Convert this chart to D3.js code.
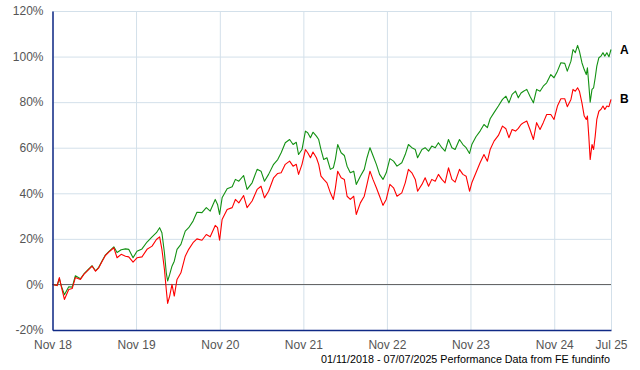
<!DOCTYPE html>
<html>
<head>
<meta charset="utf-8">
<script src="https://cdn.jsdelivr.net/npm/d3@7"></script>
<style>
  body { margin: 0; background: #fff; }
  svg { display: block; font-family: "Liberation Sans", Arial, sans-serif; }
  .grid line { stroke: #d3e0ea; stroke-width: 1; }
  .grid .domain { display: none; }
  .axis text { fill: #555; font-size: 12px; }
  .line { fill: none; stroke-width: 1.1; stroke-linejoin: round; }
</style>
</head>
<body>
<div id="chart"></div>
<script>
// dates
var dates = [
  "2018-11-01","2018-11-21","2018-12-01","2018-12-09","2018-12-23","2019-01-11","2019-01-26","2019-02-09",
  "2019-03-03","2019-03-18","2019-04-01","2019-04-23","2019-05-08","2019-05-22","2019-06-06","2019-06-20",
  "2019-07-05","2019-07-27","2019-08-10","2019-08-28","2019-09-16","2019-09-30","2019-10-19","2019-11-05",
  "2019-11-27","2019-12-19","2020-01-10","2020-01-29","2020-02-12","2020-02-22","2020-03-04","2020-03-12",
  "2020-03-18","2020-03-27","2020-04-06","2020-04-16","2020-04-28","2020-05-15","2020-06-03","2020-06-18",
  "2020-07-07","2020-07-24","2020-08-15","2020-09-03","2020-09-20","2020-10-12","2020-10-22","2020-10-31",
  "2020-11-11","2020-12-03","2020-12-25","2021-01-08","2021-01-23","2021-02-13","2021-02-28","2021-03-22",
  "2021-04-13","2021-04-30","2021-05-15","2021-06-02","2021-06-24","2021-07-12","2021-07-27","2021-08-14",
  "2021-09-02","2021-09-17","2021-10-01","2021-10-11","2021-10-26","2021-11-10","2021-11-20","2021-12-02",
  "2021-12-13","2021-12-28","2022-01-07","2022-01-17","2022-01-29","2022-02-12","2022-02-27","2022-03-12",
  "2022-03-21","2022-03-31","2022-04-15","2022-04-29","2022-05-11","2022-05-25","2022-06-09","2022-06-20",
  "2022-07-08","2022-07-25","2022-08-06","2022-08-19","2022-09-01","2022-09-16","2022-09-30","2022-10-15",
  "2022-10-29","2022-11-14","2022-11-30","2022-12-15","2023-01-05","2023-01-20","2023-02-03","2023-02-18",
  "2023-03-05","2023-03-15","2023-04-03","2023-04-17","2023-05-02","2023-05-16","2023-05-31","2023-06-14",
  "2023-06-29","2023-07-13","2023-07-28","2023-08-12","2023-08-26","2023-09-14","2023-09-29","2023-10-13",
  "2023-10-28","2023-11-07","2023-11-25","2023-12-13","2023-12-30","2024-01-14","2024-01-26","2024-02-12",
  "2024-03-02","2024-03-20","2024-04-04","2024-04-17","2024-05-01","2024-05-16","2024-05-28","2024-06-09",
  "2024-06-20","2024-07-04","2024-07-18","2024-08-02","2024-08-16","2024-08-31","2024-09-14","2024-09-29",
  "2024-10-17","2024-10-31","2024-11-15","2024-11-30","2024-12-17","2024-12-28","2025-01-13","2025-01-22",
  "2025-02-01","2025-02-11","2025-02-19","2025-03-02","2025-03-12","2025-03-21","2025-03-26","2025-04-01",
  "2025-04-07","2025-04-15","2025-04-22","2025-04-29","2025-05-06","2025-05-15","2025-05-24","2025-06-02",
  "2025-06-10","2025-06-19","2025-06-28","2025-07-07"
];

// cumulative performance, %
var seriesA = [
  0,-0.5,2.5,-0.5,-4.5,-1,-1.2,3.8,
  2.5,4.6,6,8.2,6,7.5,10.4,12.9,
  14.4,16.5,14,15.2,15.6,15.4,11.7,14.6,
  15.6,18.6,20.9,22.7,24.9,22.7,13.9,5.1,
  1.5,4.4,8,10.2,15.4,17.6,23.4,24.9,
  27.8,31.7,31.5,33.7,32.2,37.3,35.1,30.7,
  38,42,42.9,46.1,45.3,47.8,41.7,44.6,
  50.5,49.7,45.3,48.3,52.7,54.8,57.8,62.2,
  63.6,61.4,62.4,57,59.2,67.3,66.6,64.4,
  66.8,65.1,63.6,59.2,54.8,55.6,50.5,51.2,
  55,61.4,57.8,56.6,51.9,49,49.7,43.9,
  47.5,50.5,55.6,60,56.6,52.7,48.3,46.1,
  49,55.2,54.1,51.9,53.4,57,61.4,60,
  59.2,55.6,59.2,60,58.5,60.7,60,62.2,
  60,58.5,63.6,60,59.2,63.6,61.4,60,
  57.5,61.4,64.8,67.3,70.2,68.8,72.7,75.4,
  78.3,81.2,82.6,79.7,83.4,84.8,81.9,84,
  84.8,85.6,82.6,79.7,85.6,84.8,87,88.5,
  92.1,90.7,93.6,97.3,97,93.6,98,103.1,
  101.7,104.9,102.4,97.3,94.3,92.1,95.1,87.8,
  80,85.6,86.3,90.7,95.8,99.5,100.2,101.7,
  100.2,101.7,99.9,103.1
];

var seriesB = [
  0,-0.5,3,-0.7,-6.6,-2.2,-1.8,3,
  2.2,4.4,5.8,8,5.8,7.3,10.2,12.7,
  14.2,16.1,11.7,13.2,12.4,12.1,9.8,11.7,
  12.1,15.4,16.8,19.7,20.9,15.4,6.6,-2.2,
  -8.3,-5.1,0,-5.1,2.2,5.1,12.4,15.4,
  18.3,20,19.4,21.9,20.9,25.9,24.9,19.4,
  28.5,32.9,33.7,37.3,35.8,39,33.7,36.6,
  41.7,43.1,38,40.9,46.8,48.7,49,52.7,
  54.1,51.9,52.7,48.3,52.7,59.2,57.8,55.6,
  58.1,55.6,52.7,47.5,46.1,44.6,40.2,37.3,
  42.4,49.7,46.8,46.1,38.7,37.3,38.7,30.7,
  35.8,38.7,43.9,49.7,46.1,42.4,38.7,34.7,
  37.3,43.9,42.4,38.7,40.2,44.6,50.5,49,
  46.1,40.9,43.9,46.8,43.1,46.1,45.3,48.3,
  46.1,44.6,51.2,46.1,44.9,50.5,48.3,47.5,
  40.9,44.6,49,53.4,57,54.1,59.2,62.9,
  65.4,69.5,68.3,64.4,68,67.3,68.5,70.2,
  71,71.7,68,63.6,71,68,71,74.6,
  74.6,72.4,78.3,81.5,81.5,78,81.2,85.6,
  84.8,86.3,84.8,79.7,73.9,72.4,73.9,65.1,
  54.8,61.4,59.2,65.1,72.4,76,76.8,78.3,
  76.8,78.3,78,81.2
];

var xTickDates = ["2018-11-01","2019-11-01","2020-11-01","2021-11-01","2022-11-01","2023-11-01","2024-11-01","2025-07-07"];
var xTickLabels = ["Nov 18","Nov 19","Nov 20","Nov 21","Nov 22","Nov 23","Nov 24","Jul 25"];
var yTicks = [-20, 0, 20, 40, 60, 80, 100, 120];
var seriesNames = ["A", "B"];
var seriesColors = ["#139113", "#ff0000"];

var parse = d3.timeParse("%Y-%m-%d");

var svg = d3.select("#chart").append("svg")
    .attr("width", 640)
    .attr("height", 370);

var plotLeft = 52.5, plotRight = 611, plotTop = 11, plotBottom = 330;

var x = d3.scaleTime()
    .domain([parse(dates[0]), parse(dates[dates.length - 1])])
    .range([plotLeft, plotRight]);

var y = d3.scaleLinear()
    .domain([-20, 120])
    .range([plotBottom, plotTop]);

var tickDates = xTickDates.map(parse);

// grid
svg.append("g")
    .attr("class", "grid")
    .attr("transform", "translate(0," + plotBottom + ")")
    .call(d3.axisBottom(x).tickValues(tickDates).tickSize(-(plotBottom - plotTop)).tickFormat(""));

svg.append("g")
    .attr("class", "grid")
    .attr("transform", "translate(" + plotLeft + ",0)")
    .call(d3.axisLeft(y).tickValues(yTicks).tickSize(-(plotRight - plotLeft)).tickFormat(""));

// zero line
svg.append("line")
    .attr("x1", plotLeft).attr("x2", plotRight)
    .attr("y1", Math.round(y(0)) + 0.5).attr("y2", Math.round(y(0)) + 0.5)
    .attr("stroke", "#666")
    .attr("stroke-width", 1);

// series
var series = [seriesA, seriesB];
series.forEach(function (vals, i) {
    var line = d3.line()
        .x(function (d, j) { return x(parse(dates[j])); })
        .y(function (d) { return y(d); });
    svg.append("path")
        .datum(vals)
        .attr("class", "line")
        .attr("stroke", seriesColors[i])
        .attr("d", line);

    svg.append("text")
        .attr("x", 620)
        .attr("y", y(vals[vals.length - 1]) + 4)
        .attr("font-size", "12px")
        .attr("font-weight", "bold")
        .attr("fill", "#000")
        .text(seriesNames[i]);
});

// axes
var yAxis = svg.append("g")
    .attr("class", "axis")
    .attr("transform", "translate(" + plotLeft + ",0)")
    .call(d3.axisLeft(y).tickValues(yTicks).tickSize(0).tickPadding(9)
        .tickFormat(function (d) { return d + "%"; }));
yAxis.select(".domain").attr("stroke", "#102a86").attr("stroke-width", 1.5);

var xAxis = svg.append("g")
    .attr("class", "axis")
    .attr("transform", "translate(0," + plotBottom + ")")
    .call(d3.axisBottom(x).tickValues(tickDates).tickSize(0).tickPadding(10)
        .tickFormat(function (d, i) { return xTickLabels[i]; }));
xAxis.select(".domain").attr("stroke", "#102a86").attr("stroke-width", 1.5);

// source note
svg.append("text")
    .attr("x", 610)
    .attr("y", 363)
    .attr("text-anchor", "end")
    .attr("font-size", "11px")
    .attr("fill", "#000")
    .attr("textLength", 289)
    .attr("lengthAdjust", "spacingAndGlyphs")
    .text("01/11/2018 - 07/07/2025 Performance Data from FE fundinfo");
</script>
</body>
</html>
